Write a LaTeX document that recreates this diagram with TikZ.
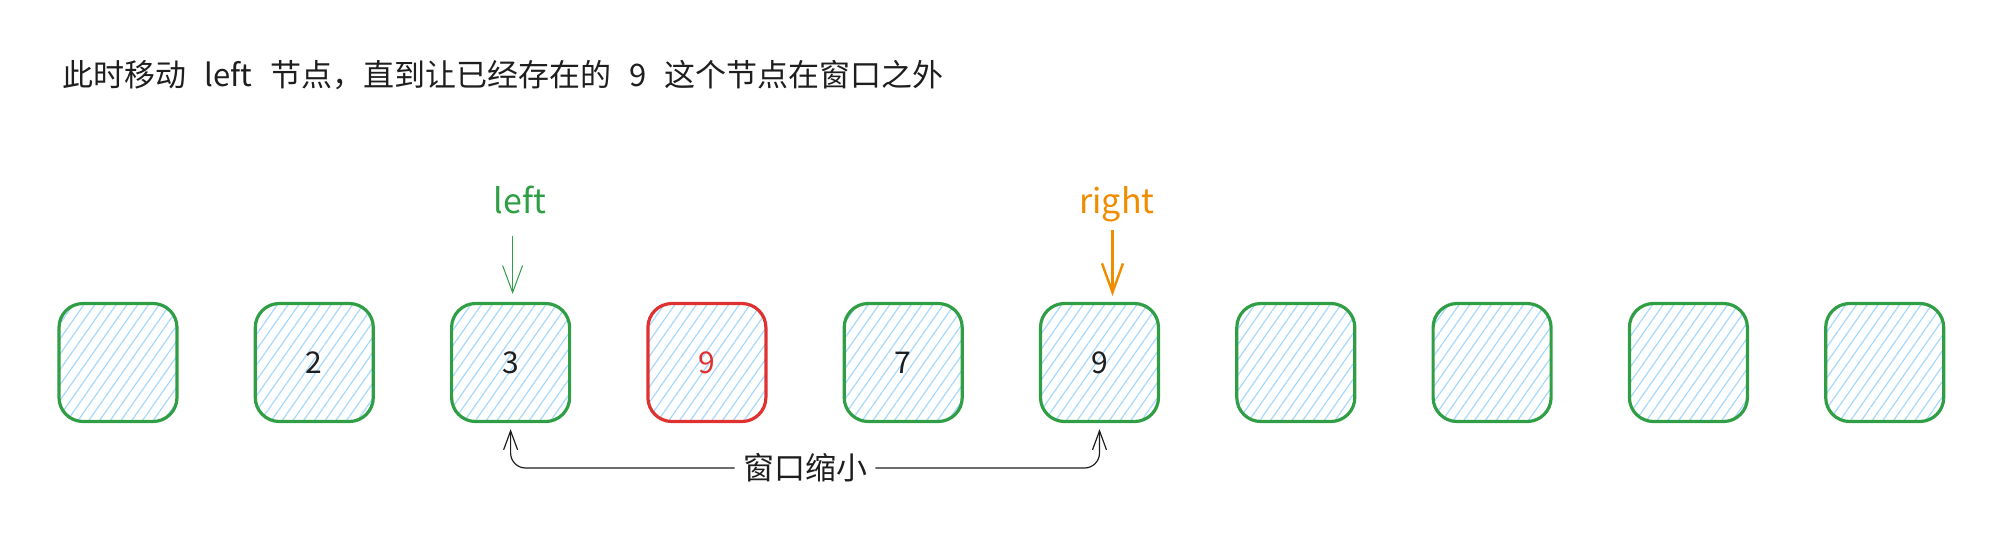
\documentclass[tikz,border=0pt]{standalone}
\usepackage{fontspec}
\setmainfont{Noto Sans CJK SC}
\newfontfamily\titlefont{Noto Sans CJK SC}[WordSpace=2.6]
\usetikzlibrary{arrows.meta,patterns.meta,positioning}
\definecolor{boxgreen}{HTML}{2F9E44}
\definecolor{boxred}{HTML}{E03131}
\definecolor{hatch}{HTML}{A5D8FF}
\definecolor{ptrorange}{HTML}{F08C00}
\definecolor{ink}{HTML}{1E1E1E}
\tikzset{
  cell/.style={draw=boxgreen, line width=1.6pt, rounded corners=12pt,
    minimum width=59pt, minimum height=59pt, inner sep=0pt,
    pattern={Lines[angle=55,distance=4.4pt,line width=0.6pt]}, pattern color=hatch,
    text=ink, font=\fontsize{15}{18}\selectfont},
  badcell/.style={cell, draw=boxred, text=boxred},
  ptrtext/.style={anchor=base, font=\fontsize{17}{20}\selectfont},
  winarrow/.style={draw=ink, line width=0.6pt, rounded corners=7.5pt,
    -{Straight Barb[length=9.5pt,width=7pt]}, shorten >=3pt}
}
\begin{document}
\begin{tikzpicture}[x=0.5pt,y=-0.5pt]
\useasboundingbox (0,0) rectangle (1998,532);
\node[anchor=base west, text=ink, font=\titlefont\fontsize{15.5}{19}\selectfont, inner sep=0pt] (title) at (62,86)
  {此时移动 left 节点，直到让已经存在的 9 这个节点在窗口之外};
% cells
\foreach \i/\v/\s in {1//cell,2/2/cell,3/3/cell,4/9/badcell,5/7/cell,6/9/cell,7//cell,8//cell,9//cell,10//cell}
  \node[\s] (b\i) at ({118+196.3*(\i-1)},362.5) {\v};
% pointers
\node[ptrtext, text=boxgreen] (lefttxt) at (520,213) {left};
\node[ptrtext, text=ptrorange] (righttxt) at (1117,213) {right};
\draw[boxgreen, line width=0.5pt, -{Straight Barb[length=13.5pt,width=10pt]}, shorten >=4pt]
  ([xshift=1pt,yshift=33pt]b3.north) -- ([xshift=1pt]b3.north);
\draw[ptrorange, line width=1.2pt, -{Straight Barb[length=14.5pt,width=10.5pt]}, shorten >=3pt]
  ([xshift=6.5pt,yshift=36pt]b6.north) -- ([xshift=6.5pt]b6.north);
% window
\node[text=ink, font=\fontsize{15.5}{19}\selectfont, inner xsep=4pt, inner ysep=0pt] (shrink) at (805,468) {窗口缩小};
\draw[winarrow] (shrink.west) -| (b3.south);
\draw[winarrow] (shrink.east) -| (b6.south);
\end{tikzpicture}
\end{document}
